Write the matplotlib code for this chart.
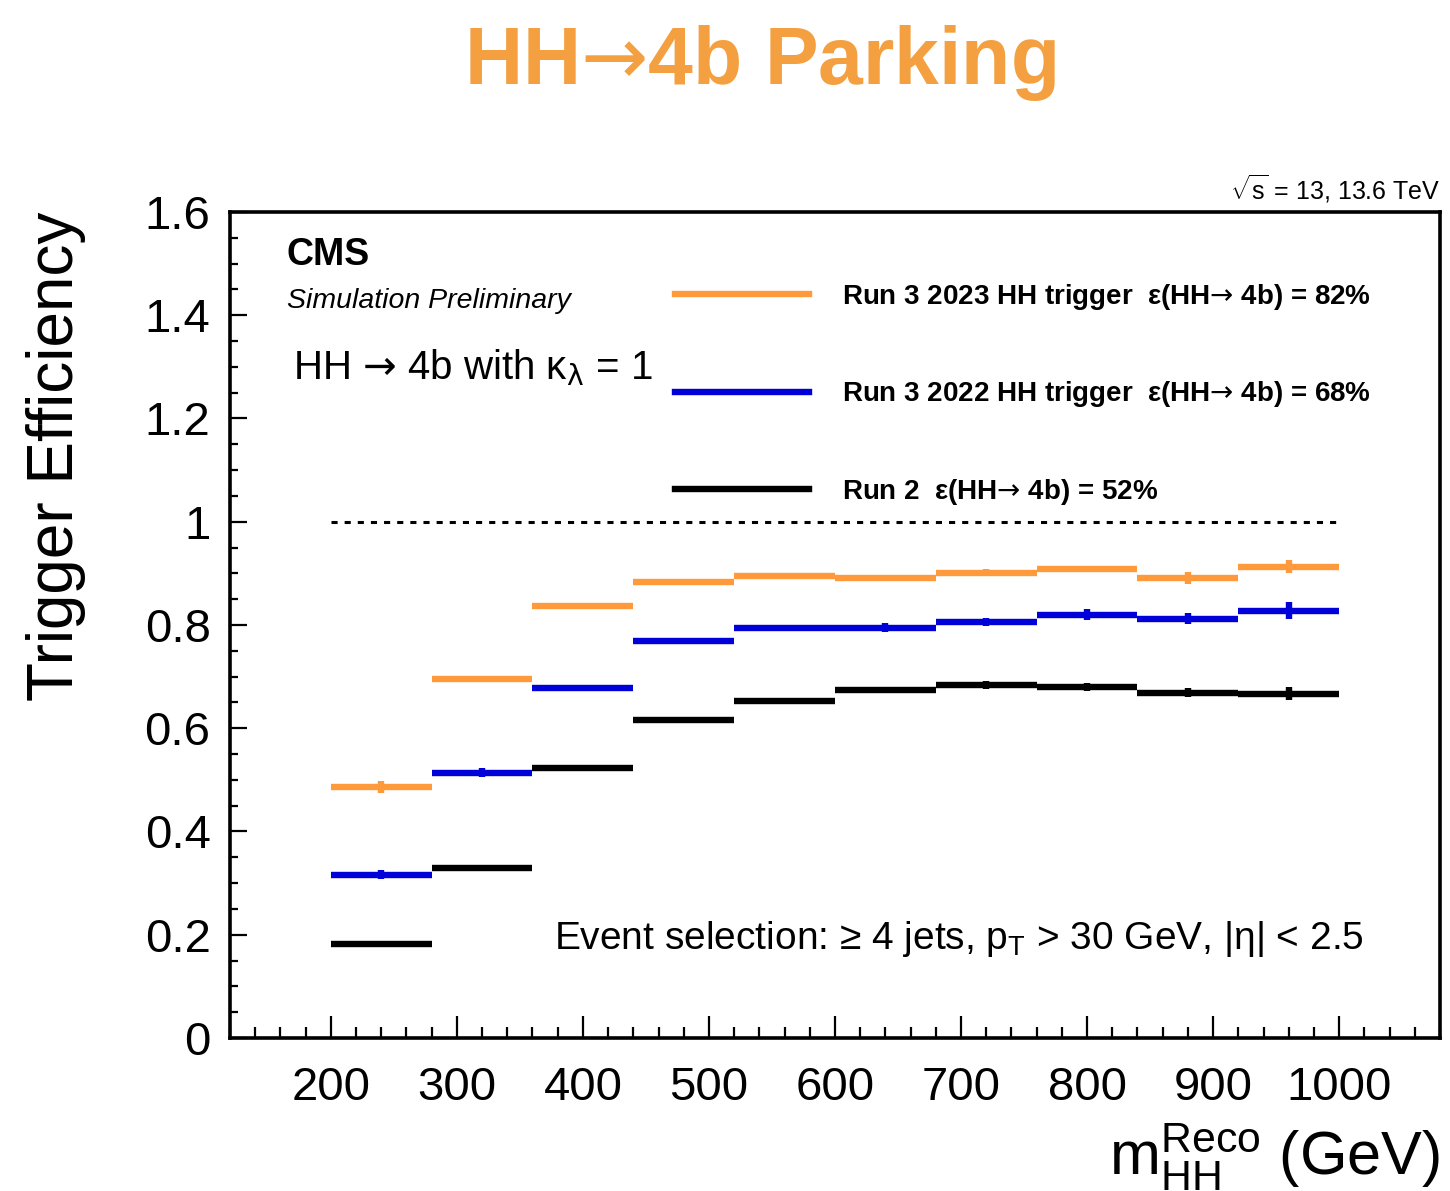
import matplotlib
matplotlib.use("Agg")
import matplotlib.pyplot as plt
from matplotlib.lines import Line2D
from matplotlib.ticker import MultipleLocator
import numpy as np

plt.rcParams["font.family"] = ["Liberation Sans", "DejaVu Sans"]
plt.rcParams["mathtext.fontset"] = "custom"
plt.rcParams["mathtext.rm"] = "Liberation Sans"
plt.rcParams["mathtext.it"] = "Liberation Sans:italic"
plt.rcParams["mathtext.bf"] = "Liberation Sans:bold"

# mHH bins (GeV)
bin_edges = [200, 280, 360, 440, 520, 600, 680, 760, 840, 920, 1000]

eff_run3_2023 = [0.486, 0.696, 0.837, 0.884, 0.895, 0.891, 0.901, 0.909, 0.891, 0.913]
err_run3_2023 = [0.012, 0.006, 0.004, 0.004, 0.004, 0.004, 0.007, 0.006, 0.012, 0.013]

eff_run3_2022 = [0.316, 0.514, 0.678, 0.769, 0.795, 0.795, 0.806, 0.820, 0.812, 0.828]
err_run3_2022 = [0.009, 0.008, 0.004, 0.004, 0.004, 0.008, 0.008, 0.010, 0.011, 0.016]

eff_run2 = [0.182, 0.329, 0.523, 0.616, 0.653, 0.674, 0.684, 0.680, 0.669, 0.667]
err_run2 = [0.004, 0.004, 0.004, 0.004, 0.004, 0.004, 0.008, 0.007, 0.009, 0.013]

labels = [
    r"Run 3 2023 HH trigger  ε(HH$→$ 4b) = 82%",
    r"Run 3 2022 HH trigger  ε(HH$→$ 4b) = 68%",
    r"Run 2  ε(HH$→$ 4b) = 52%",
]
colors = ["#FF9A3C", "#0000D8", "#000000"]

edges = np.array(bin_edges, dtype=float)
centers = 0.5 * (edges[:-1] + edges[1:])
half = 0.5 * np.diff(edges)

fig = plt.figure(figsize=(14.5, 11.91), dpi=100)
ax = fig.add_axes([0.1586, 0.1285, 0.8345, 0.6935])

ax.hlines(1.0, edges[0], edges[-1], colors="black", linestyles=(0, (2.0, 2.3)), linewidth=2.2)

series = [(eff_run3_2023, err_run3_2023), (eff_run3_2022, err_run3_2022), (eff_run2, err_run2)]
for (vals, errs), col in zip(series, colors):
    ax.errorbar(centers, vals, xerr=half, yerr=errs, fmt="none",
                ecolor=col, elinewidth=4.6, capsize=0)

ax.set_xlim(120, 1080)
ax.set_ylim(0, 1.6)
ax.xaxis.set_minor_locator(MultipleLocator(20))
ax.yaxis.set_minor_locator(MultipleLocator(0.05))
ax.set_xticks([200, 300, 400, 500, 600, 700, 800, 900, 1000])
ax.set_yticks([0, 0.2, 0.4, 0.6, 0.8, 1.0, 1.2, 1.4, 1.6])
ax.set_yticklabels(["0", "0.2", "0.4", "0.6", "0.8", "1", "1.2", "1.4", "1.6"])

ax.tick_params(axis="both", which="both", direction="in", top=False, right=False,
               width=1.6, labelsize=34)
ax.tick_params(axis="x", which="major", length=16, pad=20)
ax.tick_params(axis="x", which="minor", length=8)
ax.tick_params(axis="y", which="major", length=12, pad=14)
ax.tick_params(axis="y", which="minor", length=6)
for sp in ax.spines.values():
    sp.set_linewidth(2.6)

ax.set_ylabel("Trigger Efficiency", fontsize=46, loc="top", labelpad=42)
ax.set_xlabel(r"$\mathrm{m}_{\mathrm{HH}}^{\mathrm{Reco}}$ (GeV)", fontsize=44, loc="right",
              labelpad=8)

handles = [Line2D([], [], color=c, linewidth=4.6) for c in colors]
leg = ax.legend(handles, labels, loc="upper left", bbox_to_anchor=(0.368, 0.915),
                frameon=False, borderpad=0, borderaxespad=0, handlelength=4.8,
                handletextpad=1.2, labelspacing=2.42,
                prop={"family": "Liberation Sans", "weight": "bold", "size": 20})
for t in leg.get_texts():
    t.set_math_fontfamily("dejavusans")

ax.text(0.047, 0.948, "CMS", transform=ax.transAxes, fontsize=27, fontweight="bold",
        va="center", ha="left")
ax.text(0.047, 0.892, "Simulation Preliminary", transform=ax.transAxes, fontsize=20.5,
        style="italic", va="center", ha="left")
ax.text(0.052, 0.812, r"HH $→$ 4b with κ$_{\mathrm{\lambda}}$ = 1", transform=ax.transAxes,
        fontsize=29, va="center", ha="left", math_fontfamily="dejavusans")
ax.text(0.268, 0.12, r"Event selection: ≥ 4 jets, p$_{\mathrm{T}}$ > 30 GeV, |η| < 2.5",
        transform=ax.transAxes, fontsize=28, va="center", ha="left")
ax.text(1.0, 1.008, r"$\sqrt{\mathrm{s}}$ = 13, 13.6 TeV", transform=ax.transAxes, fontsize=18,
        va="bottom", ha="right")

fig.text(0.524, 0.947, r"HH$→$4b Parking", fontsize=58, fontweight="bold",
         color="#F4A040", ha="center", va="center", math_fontfamily="dejavusans")

fig.savefig("out.png", dpi=100)
